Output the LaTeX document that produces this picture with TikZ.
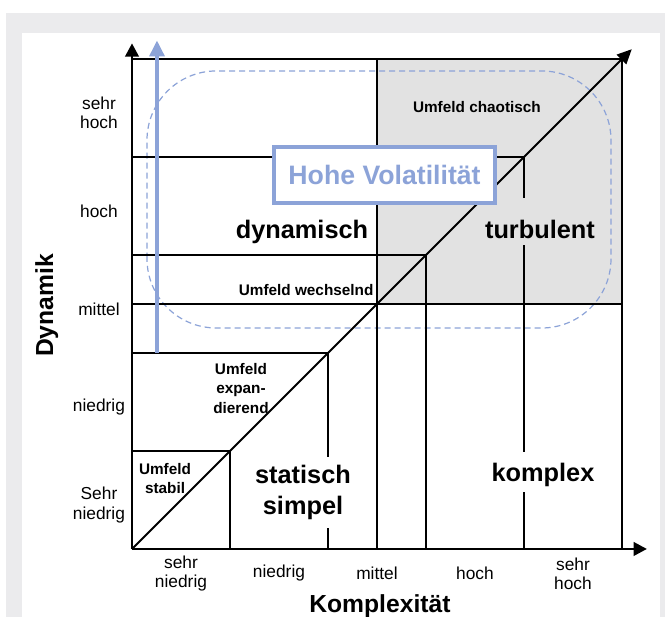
\documentclass[tikz,border=0pt]{standalone}
\usepackage{fontspec}
\setmainfont{Liberation Sans}
\usetikzlibrary{positioning, calc, arrows.meta}

\definecolor{volblue}{RGB}{140,163,216}
\definecolor{panelgray}{RGB}{235,235,237}
\definecolor{chaosgray}{RGB}{226,226,226}

\begin{document}
\begin{tikzpicture}[x=73.5pt, y=73.5pt,
            grid/.style={black, line width=1.5pt},
            axis/.style={-{Triangle[length=10pt, width=10pt]}, black, line width=2.2pt},
            diag/.style={-{Triangle[length=11pt, width=10pt]}, black, line width=1.5pt},
            lvl/.style={font=\fontsize{13}{14.5}\selectfont, align=center},
            small/.style={font=\bfseries\fontsize{11.5}{14.5}\selectfont, align=center, inner sep=1pt},
            big/.style={font=\bfseries\fontsize{19}{23}\selectfont, align=center, inner xsep=2pt, inner ysep=5pt},
            title/.style={font=\bfseries\fontsize{18.5}{22}\selectfont},
            volbox/.style={rectangle, draw=volblue, line width=3pt, fill=white, minimum width=165.75pt, minimum height=42pt, text=volblue, font=\bfseries\fontsize{20}{24}\selectfont},
            volarrow/.style={-{Triangle[length=12pt, width=11pt]}, volblue, line width=3pt}
        ]
            \useasboundingbox (-1.347,-0.694) rectangle (5.439,5.602);

            % --- Hintergrund ---
            \fill[panelgray] (-1.286,-0.694) rectangle (5.439,5.472);
            \fill[white] (-1.122,-0.694) rectangle (5.388,5.265);
            \fill[chaosgray] (2.5,2.5) rectangle (5,5);

            % Bereich hoher Volatilitaet
            \draw[volblue, dashed, dash pattern=on 4.5pt off 3pt, line width=0.9pt, rounded corners=52pt]
                (0.153,2.255) rectangle (4.888,4.878);

            \coordinate (o) at (0,0);
            \coordinate (ytop) at (0,5.16);
            \coordinate (xend) at (5.255,0);
            \coordinate (dend) at (5.1,5.1);
            \coordinate (vbot) at (0.255,2);
            \coordinate (vtop) at (0.255,5.19);

            % --- Raster ---
            \foreach \k in {1,2,3,4,5}
                \draw[grid] (0,\k) -- (\k,\k) -- (\k,0);
            \draw[grid] (0,2.5) -- (5,2.5);
            \draw[grid] (2.5,0) -- (2.5,5);

            % --- Achsen ---
            \draw[axis] (o) -- (ytop);
            \draw[axis] (o) -- (xend);
            \draw[diag] (o) -- (dend);
            \draw[volarrow] (vbot) -- (vtop);

            % --- Felder ---
            \node[small, anchor=base] (chaos) at (3.52,4.449) {Umfeld chaotisch};
            \node[big, anchor=base] (dyn) at (1.735,3.173) {dynamisch};
            \node[big, anchor=base, fill=chaosgray, inner ysep=3pt, text height=27pt, text depth=2pt] (turb) at (4.163,3.173) {turbulent};
            \node[small, anchor=base east] (wechsel) at (2.48,2.582) {Umfeld wechselnd};
            \node[small] (expand) at (1.112,1.638) {Umfeld\\expan-\\dierend};
            \node[small] (stabil) at (0.337,0.72) {Umfeld\\stabil};
            \node[big, fill=white, inner ysep=6pt] (statisch) at (1.745,0.577) {statisch\\simpel};
            \node[big, anchor=base, fill=white, inner ysep=3pt, text height=19.5pt, text depth=4.5pt] (komplex) at (4.194,0.684) {komplex};

            \node[volbox] (vol) at (2.577,3.816) {Hohe Volatilität};

            % --- Skalen ---
            \node[lvl] (d5) at (-0.337,4.45) {sehr\\hoch};
            \node[lvl] (d4) at (-0.337,3.45) {hoch};
            \node[lvl] (d3) at (-0.337,2.45) {mittel};
            \node[lvl] (d2) at (-0.337,1.45) {niedrig};
            \node[lvl] (d1) at (-0.337,0.45) {Sehr\\niedrig};

            \node[lvl] (k1) at (0.5,-0.25) {sehr\\niedrig};
            \node[lvl] (k2) at (1.5,-0.25) {niedrig};
            \node[lvl] (k3) at (2.5,-0.25) {mittel};
            \node[lvl] (k4) at (3.5,-0.25) {hoch};
            \node[lvl] (k5) at (4.5,-0.25) {sehr\\hoch};

            \node[title, rotate=90, anchor=base] (dynamik) at (-0.806,2.485) {Dynamik};
            \node[title, anchor=base] (komplexitaet) at (2.53,-0.653) {Komplexität};
        \end{tikzpicture}
\end{document}
